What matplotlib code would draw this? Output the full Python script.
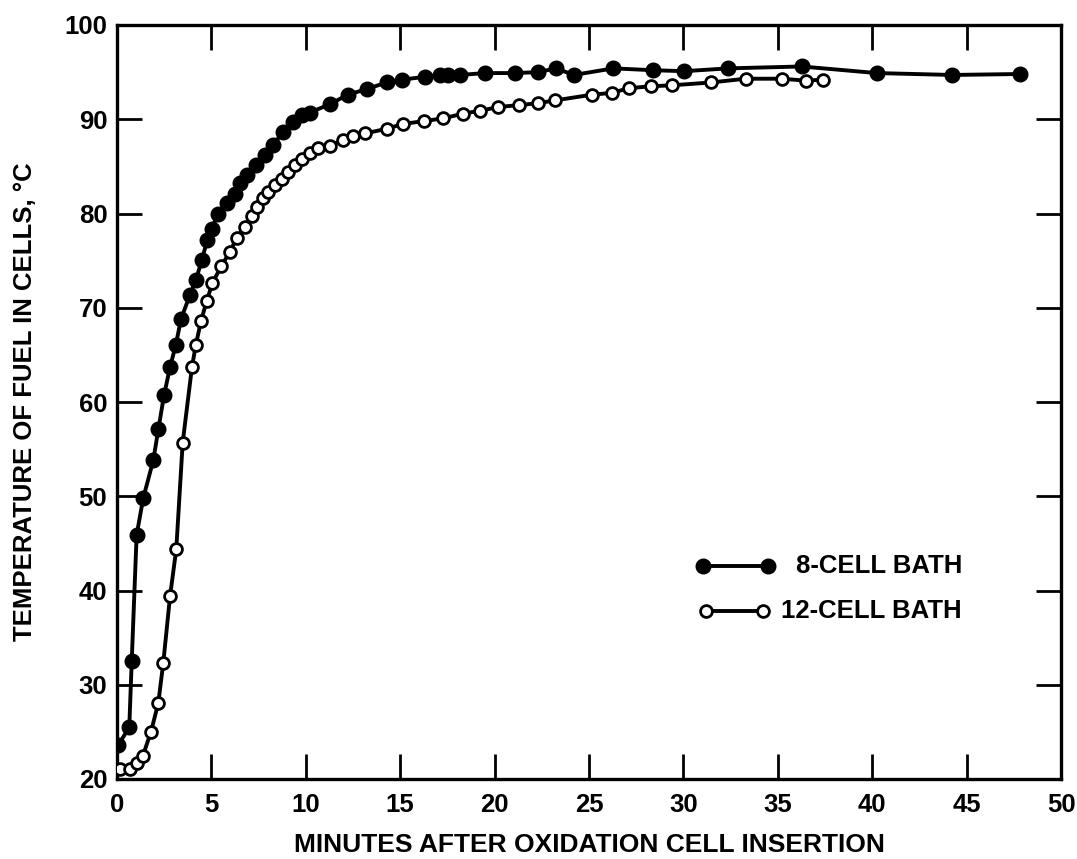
import matplotlib
matplotlib.use("Agg")
import matplotlib.pyplot as plt
from matplotlib.lines import Line2D

plt.rcParams['font.family'] = ['Liberation Sans', 'DejaVu Sans']
plt.rcParams['font.weight'] = 'bold'

# 8-cell bath (filled circles)
x8 = [0.07, 0.65, 0.78, 1.04, 1.39, 1.92, 2.19, 2.49, 2.81, 3.12, 3.39, 3.87,
      4.17, 4.5, 4.78, 5.01, 5.37, 5.81, 6.25, 6.51, 6.87, 7.36, 7.84, 8.28,
      8.81, 9.34, 9.82, 10.2, 11.28, 12.22, 13.22, 14.28, 15.08, 16.31, 17.1,
      17.55, 18.17, 19.49, 21.08, 22.31, 23.25, 24.2, 26.29, 28.41, 30.05,
      32.38, 36.26, 40.24, 44.21, 47.83]
y8 = [23.6, 25.5, 32.5, 45.9, 49.8, 53.8, 57.1, 60.7, 63.7, 66.1, 68.8, 71.4,
      72.9, 75.1, 77.2, 78.4, 80.0, 81.1, 82.1, 83.2, 84.1, 85.1, 86.2, 87.3,
      88.7, 89.7, 90.4, 90.7, 91.6, 92.6, 93.2, 93.9, 94.2, 94.5, 94.7,
      94.7, 94.7, 94.9, 94.9, 95.0, 95.4, 94.7, 95.4, 95.2, 95.1,
      95.4, 95.6, 94.9, 94.7, 94.8]

# 12-cell bath (open circles)
x12 = [0.16, 0.69, 1.04, 1.36, 1.8, 2.19, 2.45, 2.81, 3.14, 3.48, 3.97, 4.17,
       4.45, 4.75, 5.05, 5.52, 5.97, 6.34, 6.78, 7.13, 7.4, 7.75, 8.01, 8.37,
       8.72, 9.07, 9.43, 9.8, 10.22, 10.66, 11.28, 11.99, 12.52, 13.14, 14.32,
       15.13, 16.26, 17.29, 18.34, 19.23, 20.2, 21.29, 22.28, 23.2, 25.14,
       26.2, 27.13, 28.3, 29.38, 31.45, 33.3, 35.2, 36.48, 37.41]
y12 = [21.1, 21.1, 21.7, 22.4, 25.0, 28.1, 32.3, 39.4, 44.4, 55.7, 63.7, 66.0,
       68.6, 70.7, 72.6, 74.4, 75.9, 77.4, 78.6, 79.7, 80.7, 81.6, 82.3, 83.0,
       83.7, 84.4, 85.1, 85.8, 86.4, 86.9, 87.2, 87.8, 88.2, 88.5, 89.0,
       89.5, 89.8, 90.1, 90.6, 90.9, 91.3, 91.5, 91.7, 92.0, 92.6,
       92.8, 93.3, 93.5, 93.6, 93.9, 94.3, 94.3, 94.1, 94.2]

xticks = [0, 5, 10, 15, 20, 25, 30, 35, 40, 45, 50]
yticks = [20, 30, 40, 50, 60, 70, 80, 90, 100]
labels = ["8-CELL BATH", "12-CELL BATH"]

fig = plt.figure(figsize=(10.77, 8.59), dpi=100)
ax = fig.add_axes([117/1077, 1-779/859, (1061-117)/1077, (779-25)/859])

lw = 2.8
ms_f = 10.5
ms_o = 8.5
ax.plot(x8, y8, '-', color='black', lw=lw, marker='o', ms=ms_f,
        mfc='black', mec='black', zorder=3)
ax.plot(x12, y12, '-', color='black', lw=lw, marker='o', ms=ms_o,
        mfc='white', mec='black', mew=2.0, zorder=3)

ax.set_xlim(0, 50)
ax.set_ylim(20, 100)
ax.set_xticks(xticks)
ax.set_yticks(yticks)
ax.tick_params(direction='in', length=18, width=2.0, top=True, right=True,
               labelsize=18.5)
ax.tick_params(axis='x', pad=10)
ax.tick_params(axis='y', pad=7)
for lab in ax.get_xticklabels() + ax.get_yticklabels():
    lab.set_fontweight('bold')
for s in ax.spines.values():
    s.set_linewidth(2.4)

ax.set_xlabel("MINUTES AFTER OXIDATION CELL INSERTION", fontsize=19,
              fontweight='bold', va='center')
ax.xaxis.set_label_coords(0.5, (779 - 845) / 754)
ax.set_ylabel("TEMPERATURE OF FUEL IN CELLS, °C", fontsize=18.5,
              fontweight='bold', va='center')
ax.yaxis.set_label_coords((25 - 117) / 944, 0.5)

# legend drawn manually
ax.add_line(Line2D([0.621, 0.690], [0.2825, 0.2825], transform=ax.transAxes,
                   color='black', lw=lw, marker='o', ms=ms_f, mfc='black',
                   mec='black'))
ax.add_line(Line2D([0.624, 0.684], [0.2228, 0.2228], transform=ax.transAxes,
                   color='black', lw=lw, marker='o', ms=ms_o, mfc='white',
                   mec='black', mew=2.0))
ax.text(0.895, 0.2825, labels[0], transform=ax.transAxes, ha='right',
        va='center', fontsize=18.5, fontweight='bold')
ax.text(0.895, 0.2228, labels[1], transform=ax.transAxes, ha='right',
        va='center', fontsize=18.5, fontweight='bold')

fig.savefig("out.png", dpi=100)
